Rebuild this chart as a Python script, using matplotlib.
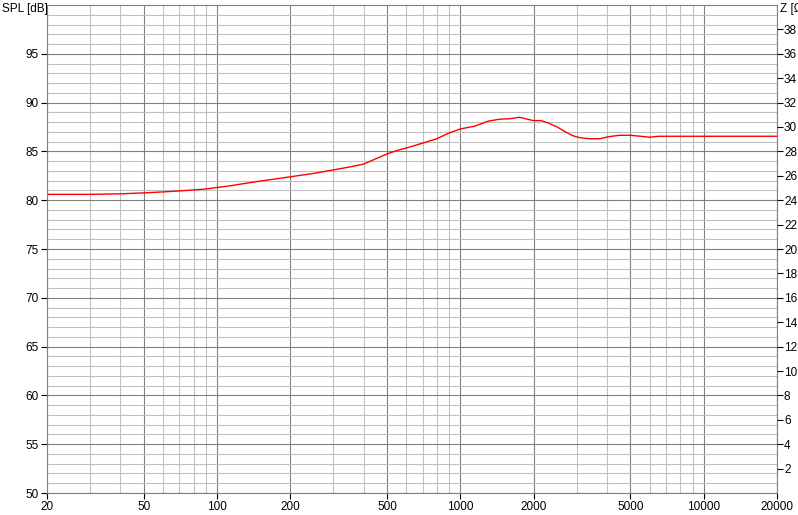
import matplotlib.pyplot as plt
import numpy as np

freq = [20, 30, 40, 50, 60, 70, 80, 90, 100, 115, 125, 150, 200, 250, 300, 350,
        400, 450, 500, 550, 600, 700, 800, 900, 1000, 1150, 1300, 1450, 1600,
        1750, 1850, 2000, 2150, 2300, 2500, 2700, 2900, 3100, 3400, 3750, 4050,
        4500, 5000, 5500, 6000, 6500, 8000, 10000, 15000, 20000]
spl = [80.6, 80.6, 80.65, 80.75, 80.85, 80.95, 81.05, 81.15, 81.3, 81.5, 81.65,
       81.95, 82.4, 82.75, 83.1, 83.4, 83.7, 84.25, 84.75, 85.1, 85.35, 85.85,
       86.3, 86.9, 87.3, 87.6, 88.1, 88.3, 88.35, 88.5, 88.35, 88.15, 88.15,
       87.9, 87.5, 87.0, 86.6, 86.4, 86.3, 86.3, 86.5, 86.65, 86.65, 86.55,
       86.45, 86.55, 86.55, 86.55, 86.55, 86.55]

x_labels = [20, 50, 100, 200, 500, 1000, 2000, 5000, 10000, 20000]
spl_ticks = list(range(50, 100, 5))
z_ticks = list(range(2, 40, 2))

plt.rcParams['font.family'] = 'Liberation Sans'
plt.rcParams['font.size'] = 8.5

fig = plt.figure(figsize=(7.98, 5.15), dpi=100)
ax = fig.add_axes([47 / 798, 22 / 515, 730 / 798, 488 / 515])

ax.set_xscale('log')
ax.set_xlim(20, 20000)
ax.set_ylim(50, 100)

# minor grid: every integer frequency step per decade, every 1 dB
minor_x = [m * 10 ** d for d in range(1, 5) for m in range(1, 10)]
minor_x = [f for f in minor_x if 20 < f < 20000 and f not in x_labels]
ax.set_xticks(x_labels)
ax.set_xticklabels([str(v) for v in x_labels])
ax.set_xticks(minor_x, minor=True)
ax.set_yticks(spl_ticks)
ax.set_yticks([v for v in range(51, 100) if v % 5 != 0], minor=True)

ax.grid(which='minor', color='#c0c0c0', linewidth=0.8)
ax.grid(which='major', color='#808080', linewidth=0.8)
ax.set_axisbelow(True)
ax.tick_params(which='minor', length=0)
ax.tick_params(which='major', length=4, width=0.8, color='black', pad=2)

for s in ax.spines.values():
    s.set_color('#808080')
    s.set_linewidth(0.8)

ax.plot(freq, spl, color='red', linewidth=1.0)

ax2 = ax.twinx()
ax2.set_ylim(0, 40)
ax2.set_yticks(z_ticks)
ax2.tick_params(length=4, width=0.8, color='black', pad=1)
for s in ax2.spines.values():
    s.set_visible(False)

fig.text(2 / 798, 1 - 9 / 515, 'SPL [dB]', ha='left', va='center', fontsize=8.5)
fig.text(780 / 798, 1 - 9 / 515, 'Z [Ω]', ha='left', va='center', fontsize=8.5)

fig.savefig('out.png', dpi=100, facecolor='white')
